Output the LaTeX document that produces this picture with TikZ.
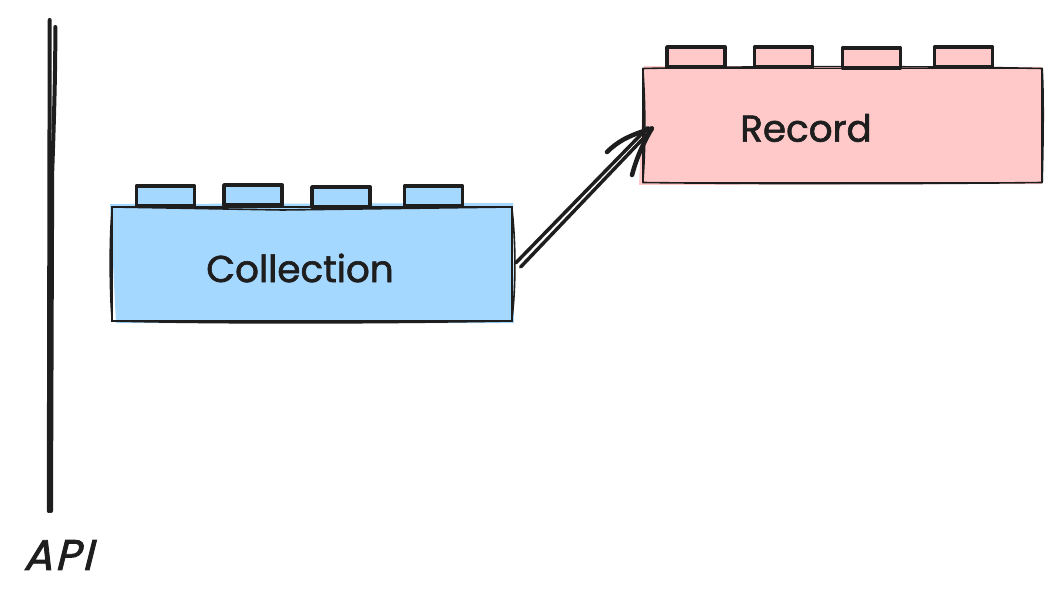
\documentclass[tikz,border=0pt]{standalone}
\usepackage{fontspec}
\setmainfont[FakeBold=1.6]{Poppins}
\newfontfamily\slanted[FakeSlant=0.25,FakeBold=2,LetterSpace=6]{Poppins}
\definecolor{ink}{HTML}{1E1E1E}
\definecolor{bluefill}{HTML}{A5D8FF}
\definecolor{pinkfill}{HTML}{FFC9C9}
\tikzset{
  brick/.style={draw=ink,line width=1.4pt,rectangle,inner sep=0pt,outer sep=0pt},
  stud/.style={draw=ink,line width=2.9pt,line join=round,rectangle,inner sep=0pt,outer sep=0pt,minimum width=43.5pt,minimum height=15pt},
  sketch/.style={draw=ink,line width=1.2pt,line cap=round},
  label/.style={text=ink,inner sep=0pt,font=\fontsize{28}{32}\selectfont},
  rail/.style={draw=ink,line width=3pt,line cap=round},
  wire/.style={draw=ink,line width=2.6pt,line cap=round},
  barb/.style={draw=ink,line width=3.4pt,line cap=round}
}
\begin{document}
\begin{tikzpicture}[x=.75pt,y=-.75pt]
\useasboundingbox (0,0) rectangle (1062,602);
% colour washes, a little off the outlines
\fill[bluefill] (110,204) -- (513,203) -- (514,323) -- (116,323) -- cycle;
\fill[pinkfill] (644,66) -- (1042,67) -- (1042,184) -- (639,185) -- cycle;
% brick bodies
\node[brick,minimum width=299.5pt,minimum height=85.5pt] (collection) at (312,264) {};
\node[brick,minimum width=299.5pt,minimum height=85.5pt] (record) at (842.5,125.5) {};
% second pencil pass along the edges
\draw[sketch] (collection.north west) -- ++(170,3) -- (collection.north east);
\draw[sketch] (collection.south west) .. controls (230,324) and (400,323) .. (collection.south east);
\draw[sketch] (collection.north east) .. controls (516,240) and (516,290) .. (collection.south east);
\draw[sketch] (collection.north west) .. controls (109,240) and (110,300) .. (collection.south west);
\draw[sketch] (record.south west) .. controls (760,184) and (920,184) .. (record.south east);
\draw[sketch] (record.north west) .. controls (760,66) and (920,66) .. (record.north east);
\draw[sketch] (record.north west) .. controls (645,100) and (646,140) .. (record.south west);
\draw[sketch] (record.north east) .. controls (1044,100) and (1043,150) .. (record.south east);
% studs of the blue brick
\node[stud,fill=bluefill] (c1) at (165.5,196) {};
\node[stud,fill=bluefill] (c2) at (253,195) {};
\node[stud,fill=bluefill] (c3) at (341,197) {};
\node[stud,fill=bluefill] (c4) at (433.5,196) {};
% studs of the pink brick
\node[stud,fill=pinkfill] (r1) at (696,57) {};
\node[stud,fill=pinkfill] (r2) at (783.5,57) {};
\node[stud,fill=pinkfill] (r3) at (871.5,58) {};
\node[stud,fill=pinkfill] (r4) at (963.5,57) {};
% labels
\node[label] (collectionlabel) at (300,268) {Collection};
\node[label] (recordlabel) at (806,128) {Record};
\node[label,font=\slanted\fontsize{32}{36}\selectfont] (apilabel) at (58,555) {API};
% the API rail: two strokes that run together on the way down
\coordinate (railtop) at (49.7,20);
\coordinate (railtwo) at (55.3,27);
\coordinate (railmid) at (52.2,172);
\coordinate (railbottom) at (48.8,511);
\coordinate (railbottomtwo) at (51,511);
\draw[rail] (railtop) -- (railbottom);
\draw[rail] (railtwo) .. controls (55.5,70) and (54,120) .. (railmid) -- (railbottomtwo);
% arrow from collection to record, drawn as two pencil strokes
\coordinate (tip) at ([shift={(9,3)}]record.west);
\draw[wire] ([shift={(4,-1)}]collection.east) -- ([shift={(-4,-1)}]tip);
\draw[wire] ([shift={(9,3)}]collection.east) -- ([shift={(-1,2)}]tip);
\draw[barb] (tip) .. controls (630,135) and (618,141) .. (607,152);
\draw[barb] (tip) .. controls (642,145) and (636,160) .. (632,175);
\end{tikzpicture}
\end{document}
